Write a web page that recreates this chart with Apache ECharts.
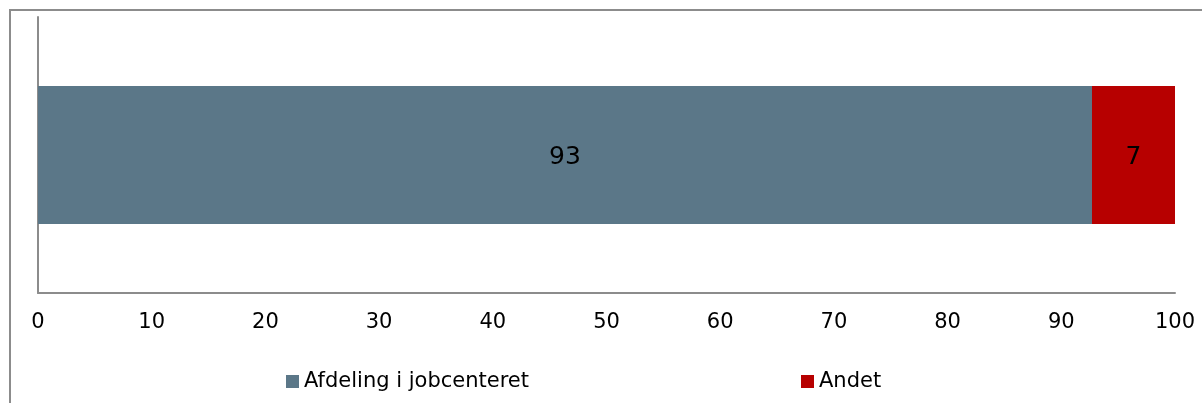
<!DOCTYPE html>
<html>
<head>
<meta charset="utf-8">
<script src="https://cdn.jsdelivr.net/npm/echarts@6/dist/echarts.min.js"></script>
<style>
html,body{margin:0;padding:0;background:#fff;overflow:hidden;}
#chart{width:1202px;height:403px;}
</style>
</head>
<body>
<div id="chart"></div>
<script>
const categories = [''];
const seriesNames = ['Afdeling i jobcenteret', 'Andet'];
const afdelingValues = [92.7];
const andetValues = [7.3];
const xTicks = [0, 10, 20, 30, 40, 50, 60, 70, 80, 90, 100];

const chart = echarts.init(document.getElementById('chart'), null, {renderer: 'canvas'});
const font = 'Verdana, "DejaVu Sans", sans-serif';
const labelStyle = {
  show: true,
  position: 'inside',
  color: '#000',
  fontFamily: font,
  fontSize: 25,
  offset: [0, 2],
  formatter: p => Math.round(p.value)
};
const legendText = {fontFamily: font, fontSize: 21, color: '#000'};
chart.setOption({
  animation: false,
  backgroundColor: '#fff',
  graphic: [{
    type: 'rect',
    shape: {x: 10, y: 10, width: 1400, height: 600},
    style: {fill: 'none', stroke: '#8c8c8c', lineWidth: 2},
    z: -1
  }],
  grid: {left: 38, right: 27, top: 17, bottom: 110},
  legend: [{
    data: [seriesNames[0]],
    left: 286, top: 371, padding: 0,
    icon: 'rect', itemWidth: 13, itemHeight: 13,
    textStyle: legendText
  }, {
    data: [seriesNames[1]],
    left: 801, top: 371, padding: 0,
    icon: 'rect', itemWidth: 13, itemHeight: 13,
    textStyle: legendText
  }],
  xAxis: {
    type: 'value',
    min: xTicks[0], max: xTicks[xTicks.length - 1], interval: 10,
    axisLine: {show: true, lineStyle: {color: '#8c8c8c', width: 2}},
    axisTick: {show: false},
    splitLine: {show: false},
    axisLabel: {color: '#000', fontFamily: font, fontSize: 21, margin: 19}
  },
  yAxis: {
    type: 'category',
    data: categories,
    axisLine: {show: true, lineStyle: {color: '#8c8c8c', width: 2}},
    axisTick: {show: false},
    axisLabel: {show: false}
  },
  series: [{
    name: seriesNames[0], type: 'bar', stack: 'total',
    data: afdelingValues, barWidth: '50%',
    itemStyle: {color: '#5b7788'},
    label: labelStyle
  }, {
    name: seriesNames[1], type: 'bar', stack: 'total',
    data: andetValues, barWidth: '50%',
    itemStyle: {color: '#b70000'},
    label: labelStyle
  }]
});
</script>
</body>
</html>
